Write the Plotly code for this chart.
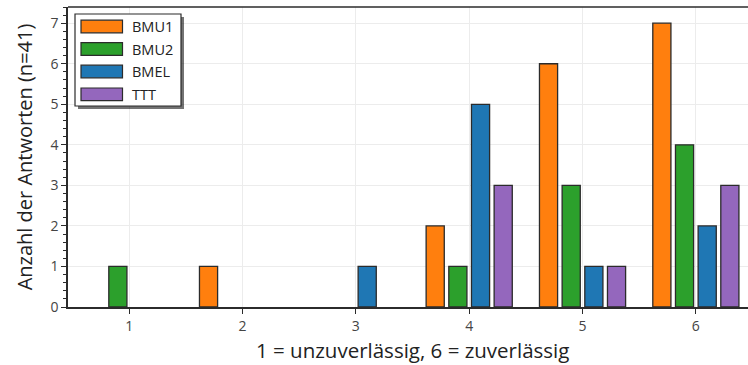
import plotly.graph_objects as go

# Antwortkategorien und Anzahl der Antworten je Gruppe
categories = [1, 2, 3, 4, 5, 6]
series_names = ["BMU1", "BMU2", "BMEL", "TTT"]
bmu1 = [0, 1, 0, 2, 6, 7]
bmu2 = [1, 0, 0, 1, 3, 4]
bmel = [0, 0, 1, 5, 1, 2]
ttt = [0, 0, 0, 3, 1, 3]
colors = ["#ff7f0e", "#2ca02c", "#1f77b4", "#9467bd"]

W, H = 748, 365
ML, MR, MT, MB = 68, 0, 7, 58
PW, PH = W - ML - MR, H - MT - MB
FONT = "Open Sans, Noto Sans, sans-serif"
EDGE = "#2b2b2b"


def px(x):
    return (x - ML) / PW


def py(y):
    return (H - MB - y) / PH


fig = go.Figure()
for name, vals, col in zip(series_names, [bmu1, bmu2, bmel, ttt], colors):
    # empty bars get no outline so they don't show as flat strokes on the axis
    widths = [1.3 if v > 0 else 0 for v in vals]
    fig.add_trace(go.Bar(
        x=categories, y=vals, name=name,
        marker=dict(color=col, line=dict(color=EDGE, width=widths)),
        showlegend=False,
    ))

shapes = []
# top frame line
shapes.append(dict(type="line", xref="paper", yref="paper", x0=0, x1=1, y0=1, y1=1,
                   line=dict(color=EDGE, width=1.5)))

# legend box with drop shadow
lx0, lx1, ly0, ly1 = 75, 181, 14, 106
shapes.append(dict(type="rect", xref="paper", yref="paper",
                   x0=px(lx0 + 3), x1=px(lx1 + 3), y0=py(ly0 + 3), y1=py(ly1 + 3),
                   line=dict(width=0), fillcolor="rgba(0,0,0,0.55)", layer="above"))
shapes.append(dict(type="rect", xref="paper", yref="paper",
                   x0=px(lx0), x1=px(lx1), y0=py(ly0), y1=py(ly1),
                   line=dict(color=EDGE, width=1.2), fillcolor="white", layer="above"))

annotations = []
row_y = [26.5, 49, 71.5, 94.3]
for name, col, yc in zip(series_names, colors, row_y):
    shapes.append(dict(type="rect", xref="paper", yref="paper",
                       x0=px(81), x1=px(122.5), y0=py(yc - 6.3), y1=py(yc + 6.3),
                       line=dict(color=EDGE, width=1.2), fillcolor=col, layer="above"))
    annotations.append(dict(x=px(130), y=py(yc), xref="paper", yref="paper",
                            text=name, showarrow=False, xanchor="left", yanchor="middle",
                            font=dict(family=FONT, size=14.5, color="#222")))

# x axis title centred on the full axis extent
annotations.append(dict(x=3.5, y=py(350), xref="x", yref="paper",
                        text="1 = unzuverlässig, 6 = zuverlässig", showarrow=False,
                        xanchor="center", yanchor="middle",
                        font=dict(family=FONT, size=20.5, color="#222")))

fig.update_layout(
    width=W, height=H,
    margin=dict(l=ML, r=MR, t=MT, b=MB),
    barmode="group", bargap=0.2, bargroupgap=0.2,
    plot_bgcolor="white", paper_bgcolor="white",
    font=dict(family=FONT, color="#333"),
    shapes=shapes, annotations=annotations,
    xaxis=dict(
        range=[0.46, 6.46], tickvals=categories, ticktext=[str(c) for c in categories],
        showgrid=True, gridcolor="#ececec", gridwidth=1,
        showline=True, linecolor=EDGE, linewidth=1.5,
        ticks="outside", ticklen=5, tickwidth=1.3, tickcolor=EDGE,
        tickfont=dict(family=FONT, size=14, color="#444"),
        zeroline=False,
    ),
    yaxis=dict(
        range=[0, 7.4], dtick=1, tick0=0,
        showgrid=True, gridcolor="#ececec", gridwidth=1,
        showline=True, linecolor=EDGE, linewidth=1.5,
        ticks="outside", ticklen=5, tickwidth=1.3, tickcolor=EDGE,
        tickfont=dict(family=FONT, size=14, color="#444"),
        minor=dict(dtick=0.2, ticks="outside", ticklen=3, tickwidth=1, tickcolor=EDGE,
                   showgrid=False),
        zeroline=False,
        title=dict(text="Anzahl der Antworten (n=41)", standoff=12,
                   font=dict(family=FONT, size=20, color="#222")),
    ),
)

fig.write_html("out.html")
